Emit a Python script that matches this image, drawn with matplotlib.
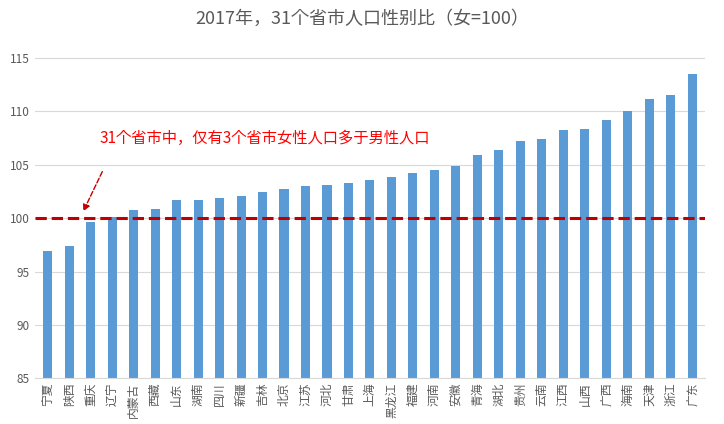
import matplotlib
matplotlib.use("Agg")
import matplotlib.pyplot as plt
from matplotlib import font_manager

provinces = ["宁夏","陕西","重庆","辽宁","内蒙古","西藏","山东","湖南","四川","新疆","吉林","北京","江苏","河北","甘肃","上海","黑龙江","福建","河南","安徽","青海","湖北","贵州","云南","江西","山西","广西","海南","天津","浙江","广东"]
ratios = [96.9,97.4,99.6,100.1,100.8,100.9,101.7,101.7,101.9,102.1,102.5,102.7,103.0,103.1,103.3,103.6,103.9,104.2,104.5,104.9,105.9,106.4,107.2,107.4,108.3,108.4,109.2,110.0,111.2,111.5,113.5]
yticks = [85,90,95,100,105,110,115]

names = sorted({f.name for f in font_manager.fontManager.ttflist})
cjk = next((n for n in names if "Sans CJK SC" in n), None) or next((n for n in names if "Sans CJK" in n), None) or next((n for n in names if "CJK" in n), "DejaVu Sans")
plt.rcParams["font.family"] = [cjk, "DejaVu Sans"]
plt.rcParams["axes.unicode_minus"] = False

fig = plt.figure(figsize=(7.24,4.24), dpi=100)
ax = fig.add_axes([0.048, 0.108, 0.926, 0.78])
x = range(len(provinces))
ax.bar(x, ratios, width=0.42, color="#5B9BD5")
ax.set_ylim(85, 116)
ax.set_xlim(-0.6, len(provinces)-0.4)
ax.set_yticks(yticks)
ax.set_xticks(list(x))
ax.set_xticklabels(provinces, rotation=90, fontsize=8.5, color="#595959")
ax.tick_params(axis="y", labelsize=8.5, colors="#595959", length=0)
ax.tick_params(axis="x", length=0, pad=3)
ax.grid(axis="y", color="#D9D9D9", linewidth=0.8)
ax.set_axisbelow(True)
for s in ["top","right","left"]:
    ax.spines[s].set_visible(False)
ax.spines["bottom"].set_color("#D9D9D9")
ax.axhline(100, color="#C00000", linestyle="--", linewidth=2.2)
ax.annotate("31个省市中，仅有3个省市女性人口多于男性人口", xy=(1.6, 100.4), xytext=(2.4, 106.7),
            fontsize=11, color="#FF0000", ha="left", va="bottom")
ax.annotate("", xy=(1.6, 100.4), xytext=(2.6, 104.6),
            arrowprops=dict(arrowstyle="-|>", color="#C00000", lw=1, linestyle="--"))
fig.text(0.5, 0.955, "2017年，31个省市人口性别比（女=100）", ha="center", va="center", fontsize=13, color="#595959")
fig.savefig("out.png", dpi=100)
